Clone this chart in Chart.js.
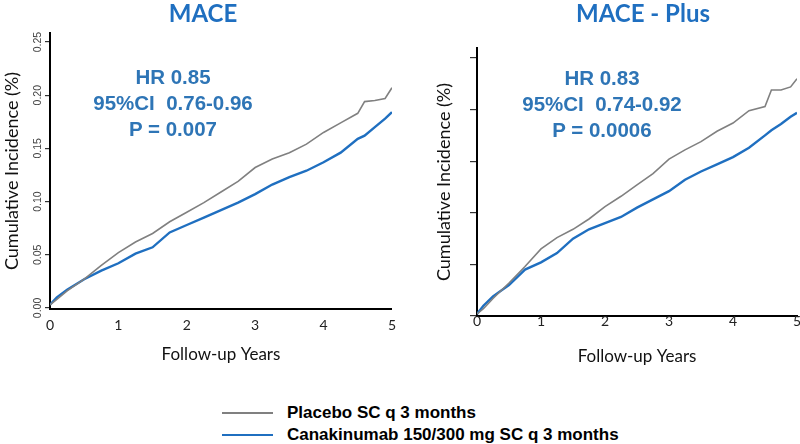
<!DOCTYPE html>
<html>
<head>
<meta charset="utf-8">
<script src="https://cdn.jsdelivr.net/npm/chart.js@4"></script>
<style>
  body { margin: 0; background: #fff; }
  #wrap { position: relative; width: 800px; height: 444px; overflow: hidden; }
  canvas { position: absolute; top: 0; }
  .txt { position: absolute; transform: translate(-50%, -50%); white-space: pre; }
  .title { font: bold 24px Lato, sans-serif; color: #1f6fc0; }
  .stat { font: bold 20.5px "Liberation Sans", Arial, sans-serif; color: #2e75b6; text-align: center; line-height: 26px; }
  .leg { position: absolute; left: 222px; width: 51px; height: 2px; }
  .legtxt { position: absolute; left: 287px; font: bold 17px "Liberation Sans", Arial, sans-serif; color: #000; transform: translateY(-50%); white-space: pre; }
</style>
</head>
<body>
<div id="wrap">
  <canvas id="maceChart" style="left:0px" width="404" height="380"></canvas>
  <canvas id="plusChart" style="left:430px" width="370" height="380"></canvas>

  <div class="txt title" style="left:203px; top:12px">MACE</div>
  <div class="txt title" style="left:643px; top:12px">MACE - Plus</div>

  <div class="txt stat" style="left:173px; top:103px">HR 0.85
95%CI  0.76-0.96
P = 0.007</div>
  <div class="txt stat" style="left:602px; top:104px">HR 0.83
95%CI  0.74-0.92
P = 0.0006</div>

  <div class="leg" style="top:412px; background:#808080"></div>
  <div class="legtxt" style="top:413px">Placebo SC q 3 months</div>
  <div class="leg" style="top:434px; background:#1f6fc0"></div>
  <div class="legtxt" style="top:435px">Canakinumab 150/300 mg SC q 3 months</div>
</div>

<script>
// follow-up years (x) shared by every series
const years = [0, 0.1, 0.25, 0.5, 0.75, 1, 1.25, 1.5, 1.75, 2, 2.25, 2.5, 2.75, 3,
  3.25, 3.5, 3.75, 4, 4.25, 4.5, 4.6, 4.75, 4.9, 5];

// MACE
const macePlacebo = [0.003, 0.008, 0.016, 0.027, 0.040, 0.052, 0.062, 0.070, 0.081, 0.090, 0.099, 0.109,
  0.119, 0.132, 0.140, 0.146, 0.154, 0.165, 0.174, 0.183, 0.194, 0.195, 0.197, 0.207];
const maceCana = [0.003, 0.010, 0.017, 0.027, 0.035, 0.042, 0.051, 0.057, 0.071, 0.078, 0.085, 0.092,
  0.099, 0.107, 0.116, 0.123, 0.129, 0.137, 0.146, 0.159, 0.162, 0.170, 0.178, 0.184];

// MACE - Plus
const plusPlacebo = [0.002, 0.007, 0.017, 0.032, 0.048, 0.065, 0.076, 0.084, 0.094, 0.106, 0.116, 0.127,
  0.138, 0.152, 0.161, 0.169, 0.179, 0.187, 0.199, 0.203, 0.219, 0.219, 0.222, 0.230];
const plusCana = [0.002, 0.010, 0.019, 0.030, 0.045, 0.052, 0.061, 0.075, 0.084, 0.090, 0.096, 0.105,
  0.113, 0.121, 0.132, 0.140, 0.147, 0.154, 0.163, 0.175, 0.180, 0.186, 0.193, 0.197];

const yTicks = [0, 0.05, 0.10, 0.15, 0.20, 0.25];
const xTicks = [0, 1, 2, 3, 4, 5];
const seriesLabels = ["Placebo SC q 3 months", "Canakinumab 150/300 mg SC q 3 months"];

const GREY = "#808080";
const BLUE = "#1f6fc0";

function pts(vals) {
  return years.map((x, i) => ({ x: x, y: vals[i] }));
}

function makeChart(id, placebo, cana, opt) {
  const ctx = document.getElementById(id).getContext('2d');
  return new Chart(ctx, {
    type: 'line',
    data: {
      datasets: [{
        label: seriesLabels[0],
        data: pts(placebo),
        borderColor: GREY,
        borderWidth: 1.6,
        pointRadius: 0,
        tension: 0
      }, {
        label: seriesLabels[1],
        data: pts(cana),
        borderColor: BLUE,
        borderWidth: 2.4,
        pointRadius: 0,
        tension: 0
      }]
    },
    options: {
      responsive: false,
      animation: false,
      layout: { padding: opt.padding },
      plugins: { legend: { display: false }, tooltip: { enabled: false } },
      scales: {
        x: {
          type: 'linear',
          min: 0,
          max: 5,
          afterBuildTicks: axis => { axis.ticks = xTicks.map(v => ({ value: v })); },
          afterFit: axis => { axis.height = opt.xHeight; },
          border: { color: "#000", width: 2 },
          grid: { display: true, drawOnChartArea: false, drawTicks: false },
          ticks: {
            padding: opt.xPad,
            color: "#222",
            font: { family: "Lato", size: 14 },
            maxRotation: 0
          },
          title: {
            display: true,
            text: "Follow-up Years",
            color: "#111",
            font: { family: "Lato", size: 17 },
            padding: { top: 4, bottom: 4 }
          }
        },
        y: {
          min: opt.yMin,
          max: opt.yMax,
          afterBuildTicks: axis => { axis.ticks = yTicks.map(v => ({ value: v })); },
          afterFit: axis => { axis.width = opt.yWidth; },
          border: { color: "#000", width: 2 },
          grid: { drawOnChartArea: false, tickLength: opt.tickLen, color: "#333", lineWidth: 1.2 },
          ticks: {
            display: opt.yLabels,
            minRotation: 90,
            maxRotation: 90,
            crossAlign: 'center',
            padding: -3,
            color: "#444",
            font: { family: "Liberation Sans", size: 10.5 },
            callback: v => v.toFixed(2)
          },
          title: {
            display: true,
            text: "Cumulative Incidence (%)",
            color: "#111",
            font: { family: "Lato", size: 18 },
            padding: { top: opt.titlePad, bottom: 4 }
          }
        }
      }
    }
  });
}

makeChart('maceChart', macePlacebo, maceCana, {
  padding: { top: 33, right: 6, bottom: 11, left: 0 },
  xHeight: 60, xPad: 8, yWidth: 50, yMin: -0.001, yMax: 0.2585,
  tickLen: 5, yLabels: true, titlePad: 1
});

makeChart('plusChart', plusPlacebo, plusCana, {
  padding: { top: 48, right: 3, bottom: 9, left: 0 },
  xHeight: 55, xPad: -3, yWidth: 47, yMin: 0, yMax: 0.2597,
  tickLen: 7, yLabels: false, titlePad: 3.5
});
</script>
</body>
</html>
